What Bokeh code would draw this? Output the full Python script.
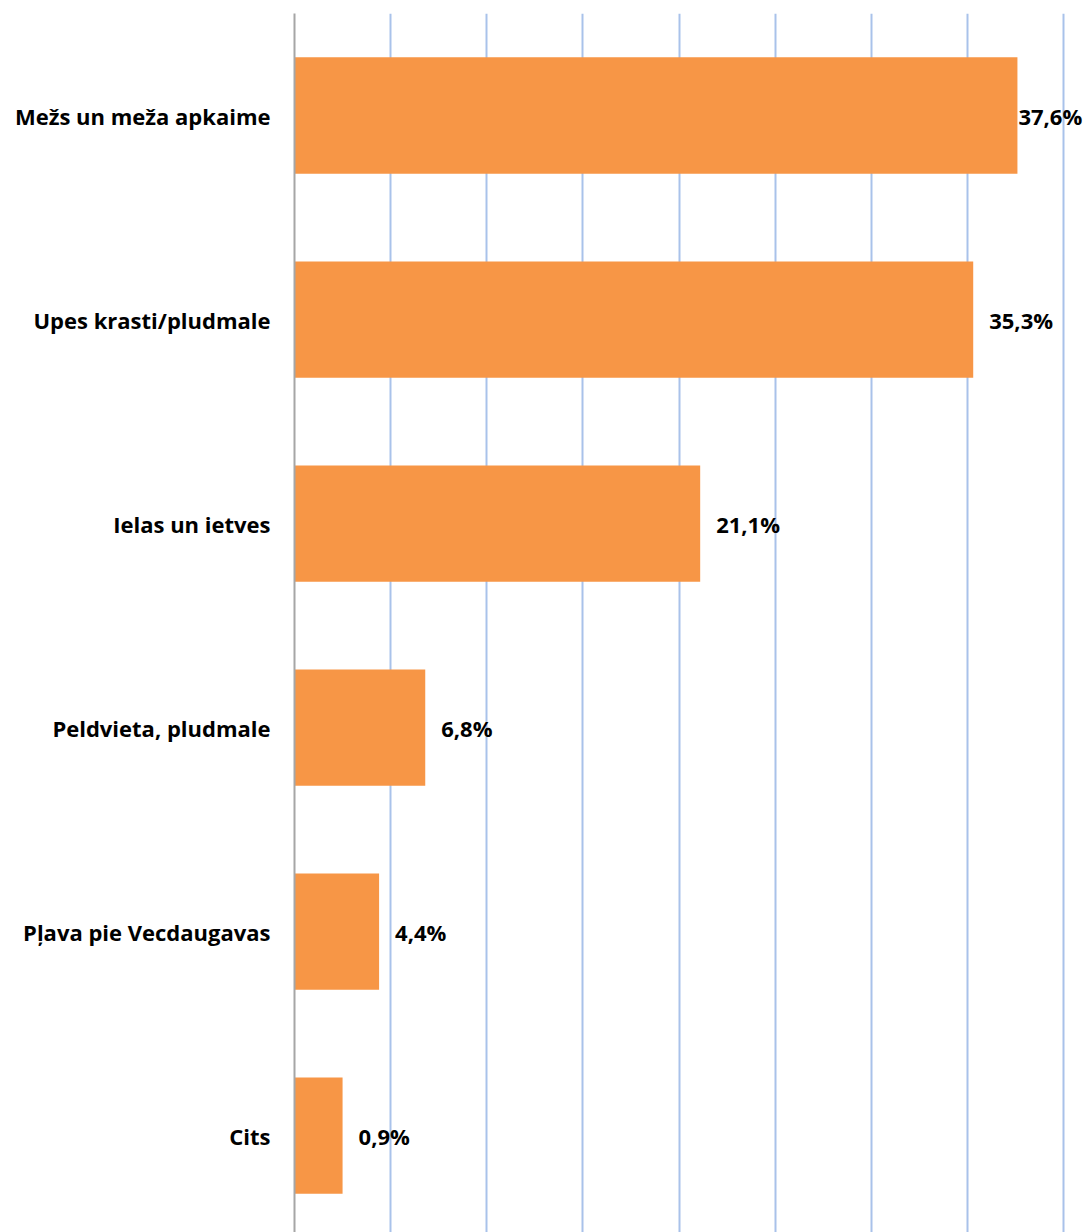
from bokeh.plotting import figure
from bokeh.models import ColumnDataSource, Range1d, FixedTicker, LabelSet
from bokeh.core.properties import value
from bokeh.embed import file_html
from bokeh.resources import INLINE

categories = ["Mežs un meža apkaime", "Upes krasti/pludmale", "Ielas un ietves",
              "Peldvieta, pludmale", "Pļava pie Vecdaugavas", "Cits"]
values = [37.6, 35.3, 21.1, 6.8, 4.4, 2.5]
value_labels = ["37,6%", "35,3%", "21,1%", "6,8%", "4,4%", "0,9%"]
x_ticks = [0, 5, 10, 15, 20, 25, 30, 35, 40]

pos = list(range(len(categories)))
offsets = [1, 16, 16, 16, 16, 16]

src = ColumnDataSource(dict(y=pos, v=values, lab=value_labels, off=offsets))

p = figure(width=1090, height=1232, output_backend="svg", toolbar_location=None,
           x_range=Range1d(0, 41.4), y_range=Range1d(5.475, -0.5),
           min_border_left=294, min_border_right=0, min_border_top=13, min_border_bottom=0)
p.outline_line_color = None
p.background_fill_color = "white"

p.hbar(y="y", right="v", left=0, height=0.57, source=src,
       fill_color="#F79646", line_color=None)

labels = LabelSet(x="v", y="y", text="lab", x_offset="off", source=src,
                  text_font=value("Open Sans"), text_font_style="bold", text_font_size="22px",
                  text_color="#000000", text_baseline="middle", text_align="left")
p.add_layout(labels)

p.xaxis.visible = False
p.xgrid.ticker = FixedTicker(ticks=x_ticks[1:])
p.xgrid.grid_line_color = "#A9C2EA"
p.xgrid.grid_line_width = 2
p.ygrid.visible = False

p.yaxis.ticker = FixedTicker(ticks=pos)
p.yaxis.major_label_overrides = {i: c for i, c in enumerate(categories)}
p.yaxis.major_tick_line_color = None
p.yaxis.minor_tick_line_color = None
p.yaxis.axis_line_color = "#A6A6A6"
p.yaxis.axis_line_width = 2
p.yaxis.major_label_standoff = 18
p.yaxis.major_label_text_font = "Open Sans"
p.yaxis.major_label_text_font_style = "bold"
p.yaxis.major_label_text_font_size = "22px"
p.yaxis.major_label_text_color = "#000000"

open("out.html", "w").write(file_html(p, INLINE))
